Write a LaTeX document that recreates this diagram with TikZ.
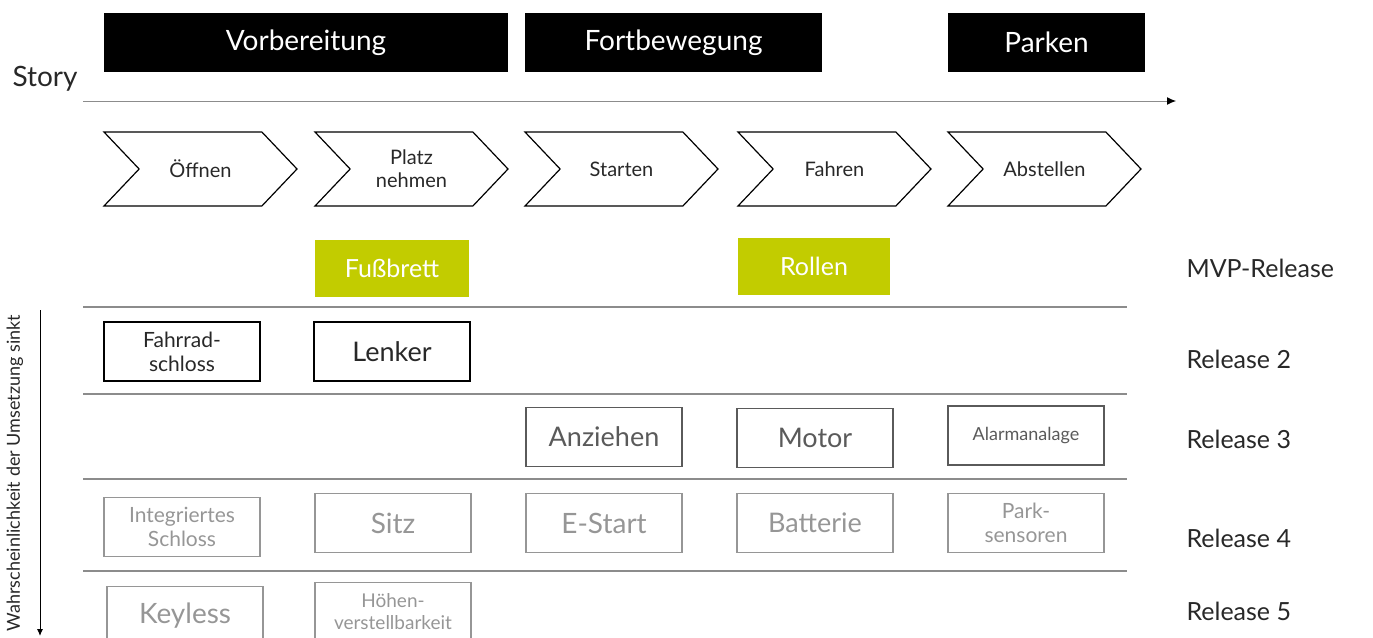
\documentclass[tikz,border=0pt]{standalone}
\usepackage{fontspec}
\setmainfont{Lato}
\usetikzlibrary{shapes.symbols}
\usetikzlibrary{arrows.meta}
\definecolor{mvpgreen}{RGB}{194,204,0}
\definecolor{txtdark}{RGB}{40,40,40}
\definecolor{relgray}{RGB}{90,90,90}
\definecolor{ltgray}{RGB}{150,150,150}
\definecolor{linegray}{RGB}{140,140,140}
\tikzset{
  phase/.style={fill=black, text=white, minimum height=59pt, inner sep=0pt, font=\fontsize{28}{31}\selectfont},
  stepsig/.style={draw, line width=1.2pt, text=txtdark, shape=signal, signal from=west, signal to=east,
    signal pointer angle=93, minimum width=193pt, minimum height=74pt, inner sep=0pt,
    align=center, font=\fontsize{20}{23}\selectfont},
  mvp/.style={fill=mvpgreen, text=white, minimum width=154pt, minimum height=57pt, font=\fontsize{25}{28}\selectfont},
  relA/.style={draw=black, text=txtdark, line width=1.4pt, minimum width=156pt, minimum height=59pt, inner sep=0pt, align=center},
  relB/.style={draw=relgray, text=relgray, line width=1.4pt, minimum width=156pt, minimum height=59pt, inner sep=0pt, align=center},
  relC/.style={draw=ltgray, text=ltgray, line width=1.4pt, minimum width=156pt, minimum height=59pt, inner sep=0pt, align=center},
  relline/.style={draw=linegray, line width=1.4pt},
  rellabel/.style={anchor=west, text=txtdark, font=\fontsize{25}{28}\selectfont},
}
\begin{document}
\begin{tikzpicture}[x=1pt, y=-1pt]
\useasboundingbox (0,0) rectangle (1373,637);
% phases
\node[phase, minimum width=404pt] (vorb) at (306,42.5) {Vorbereitung};
\node[phase, minimum width=297pt] (fort) at (673.5,42.5) {Fortbewegung};
\node[phase, minimum width=197pt] (park) at (1046.5,42.5) {Parken};
% story axis
\node[anchor=west, text=txtdark, font=\fontsize{28}{31}\selectfont] (story) at (9,79) {Story};
\coordinate (axA) at (83,101);
\coordinate (axB) at (1176,101);
\draw[line width=1pt, linegray, -{Latex[black,length=9pt,width=8pt]}] (axA) -- (axB);
% steps
\node[stepsig] (oeff) at (200.5,169) {Öffnen};
\node[stepsig] (platz) at (411.5,169) {Platz\\nehmen};
\node[stepsig] (start) at (621.5,169) {Starten};
\node[stepsig] (fahr) at (834.5,169) {Fahren};
\node[stepsig] (abst) at (1044.5,169) {Abstellen};
% MVP
\node[mvp] (fuss) at (392,268.5) {Fußbrett};
\node[mvp, minimum width=152pt] (roll) at (814,266) {Rollen};
% release separators
\draw[relline] (83,307) -- (1127,307);
\draw[relline] (83,394) -- (1127,394);
\draw[relline] (83,479) -- (1127,479);
\draw[relline] (83,571) -- (1127,571);
%     release 2
\node[relA, font=\fontsize{21}{24}\selectfont] (fschl) at (182,351.5) {Fahrrad-\\schloss};
\node[relA, font=\fontsize{27}{30}\selectfont] (lenk) at (392,351.5) {Lenker};
%     release 3
\node[relB, font=\fontsize{27}{30}\selectfont] (anz) at (604,437) {Anziehen};
\node[relB, font=\fontsize{27}{30}\selectfont] (motor) at (815,438) {Motor};
\node[relB, font=\fontsize{18}{21}\selectfont] (alarm) at (1026,435.5) {Alarmanalage};
%     release 4
\node[relC, font=\fontsize{21}{24}\selectfont] (ischl) at (182,527) {Integriertes\\Schloss};
\node[relC, font=\fontsize{28}{31}\selectfont] (sitz) at (393,523) {Sitz};
\node[relC, font=\fontsize{28}{31}\selectfont] (estart) at (604,523) {E-Start};
\node[relC, font=\fontsize{27}{30}\selectfont] (batt) at (815,523) {Batterie};
\node[relC, font=\fontsize{21}{24}\selectfont] (psens) at (1026,523) {Park-\\sensoren};
%     release 5
\node[relC, font=\fontsize{28}{31}\selectfont] (keyl) at (185,616) {Keyless};
\node[relC, font=\fontsize{19}{22}\selectfont] (hoehe) at (393,612) {Höhen-\\verstellbarkeit};
% release labels
\node[rellabel] (rmvp) at (1183,268) {MVP-Release};
\node[rellabel] (r2) at (1183,359) {Release 2};
\node[rellabel] (r3) at (1183,439) {Release 3};
\node[rellabel] (r4) at (1183,538) {Release 4};
\node[rellabel] (r5) at (1183,611) {Release 5};
% probability axis
\node[rotate=90, text=txtdark, font=\fontsize{18}{21}\selectfont] (wahr) at (15,473) {Wahrscheinlichkeit der Umsetzung sinkt};
\coordinate (pA) at (40,310);
\coordinate (pB) at (40,636);
\draw[line width=1pt, -{Latex[length=7pt,width=6pt]}] (pA) -- (pB);
\end{tikzpicture}
\end{document}
